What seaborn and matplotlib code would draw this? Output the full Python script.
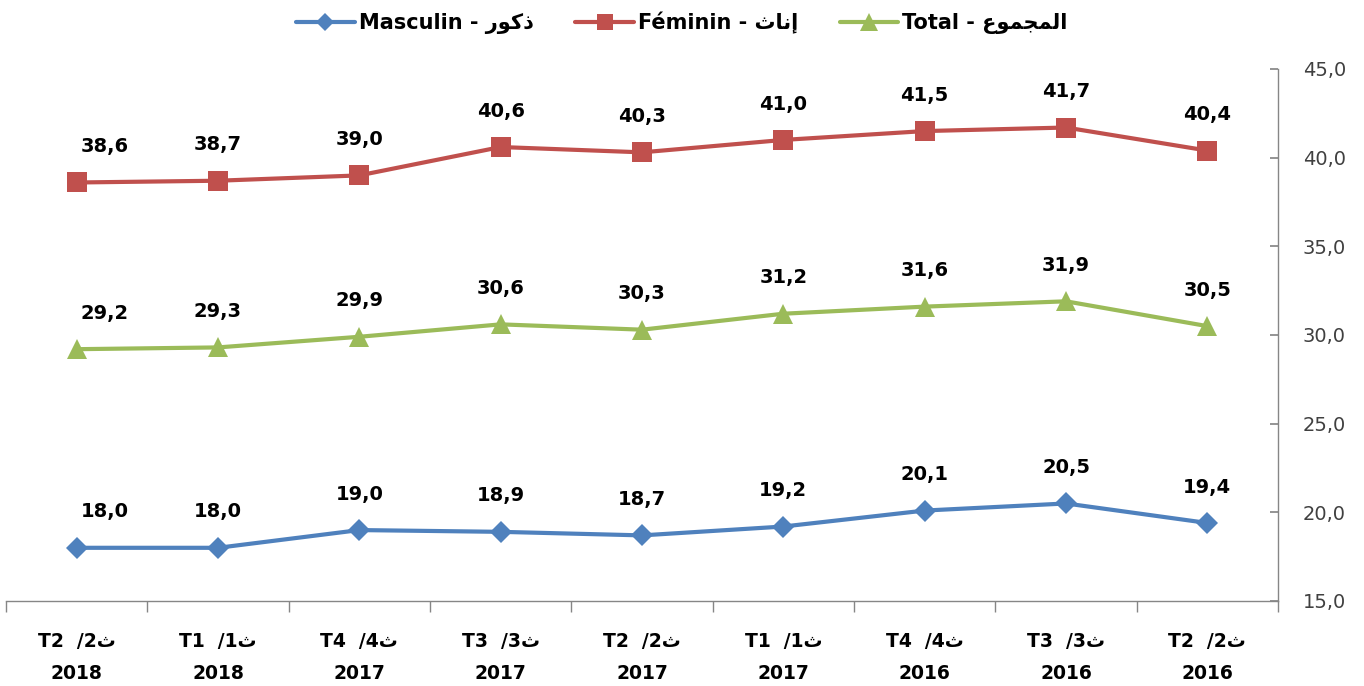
import matplotlib
matplotlib.use("Agg")
import matplotlib.pyplot as plt
import seaborn as sns
import pandas as pd
import numpy as np
from matplotlib.ticker import FixedLocator, FuncFormatter
from matplotlib.lines import Line2D

# ---- data ----
AR_THA = "\uFE99"  # ث
categories = [
    "T2  /2" + AR_THA + "\n2018", "T1  /1" + AR_THA + "\n2018", "T4  /4" + AR_THA + "\n2017",
    "T3  /3" + AR_THA + "\n2017", "T2  /2" + AR_THA + "\n2017", "T1  /1" + AR_THA + "\n2017",
    "T4  /4" + AR_THA + "\n2016", "T3  /3" + AR_THA + "\n2016", "T2  /2" + AR_THA + "\n2016",
]
masculin = [18.0, 18.0, 19.0, 18.9, 18.7, 19.2, 20.1, 20.5, 19.4]
feminin = [38.6, 38.7, 39.0, 40.6, 40.3, 41.0, 41.5, 41.7, 40.4]
total = [29.2, 29.3, 29.9, 30.6, 30.3, 31.2, 31.6, 31.9, 30.5]

# Arabic text in visual (presentation-form) order
lbl_m = "Masculin - " + "\uFEAD\uFEEE\uFEDB\uFEAB"          # ذكور
lbl_f = "Féminin - " + "\uFE99\uFE8E\uFEE7\uFE87"           # إناث
lbl_t = "Total - " + "\uFEC9\uFEEE\uFEE4\uFEA0\uFEE4\uFEDF\uFE8D"  # المجموع
series_names = [lbl_m, lbl_f, lbl_t]
series_values = [masculin, feminin, total]
colors = ["#4F81BD", "#C0504D", "#9BBB59"]
markers = ["D", "s", "^"]
msizes = [11, 14, 15]

rows = []
for name, vals in zip(series_names, series_values):
    for i, v in enumerate(vals):
        rows.append({"pos": i, "value": v, "series": name})
df = pd.DataFrame(rows)

sns.set_theme(style="white")
FAM = ["DejaVu Sans"]
plt.rcParams["font.family"] = FAM

fig = plt.figure(figsize=(13.64, 6.86), dpi=100)
ax = fig.add_axes([6 / 1364, 1 - 601 / 686, (1278 - 6) / 1364, (601 - 69) / 686])

sns.lineplot(data=df, x="pos", y="value", hue="series", hue_order=series_names,
             palette=colors, style="series", style_order=series_names,
             markers=dict(zip(series_names, markers)), dashes=False,
             linewidth=3, markeredgewidth=0, ax=ax, legend=False, sort=False)
for line, ms in zip(ax.lines, msizes):
    line.set_markersize(ms)

# data labels
for vals in series_values:
    for i, v in enumerate(vals):
        dx = 20 if i == 0 else 0
        ax.annotate(f"{v:.1f}".replace(".", ","), (i, v), xytext=(dx, 19),
                    textcoords="offset points", ha="center", va="bottom",
                    fontsize=14, fontweight="bold", color="black")

ax.set_xlim(-0.5, len(categories) - 0.5)
ax.set_ylim(15, 45)
ax.yaxis.tick_right()
ax.set_yticks(np.arange(15, 46, 5))
ax.yaxis.set_major_formatter(FuncFormatter(lambda v, p: f"{v:.1f}".replace(".", ",")))
ax.tick_params(axis="y", which="major", direction="in", length=6, color="#868686",
               labelsize=14, labelcolor="#404040", pad=18, right=True, left=False)

ax.set_xticks(range(len(categories)))
ax.set_xticklabels(categories, fontsize=13.5, fontweight="bold", linespacing=1.9, color="black")
ax.xaxis.set_minor_locator(FixedLocator(np.arange(-0.5, len(categories), 1)))
ax.tick_params(axis="x", which="major", length=0, pad=22, labelcolor="black")
ax.tick_params(axis="x", which="minor", length=8, color="#868686", direction="out", bottom=True)
ax.set_xlabel("")
ax.set_ylabel("")

for s in ["top", "left"]:
    ax.spines[s].set_visible(False)
for s in ["bottom", "right"]:
    ax.spines[s].set_color("#868686")
    ax.spines[s].set_linewidth(1)

# legend
handles = [Line2D([0], [0], color=c, marker=m, markersize=ms * 0.85, linewidth=3, markeredgewidth=0)
           for c, m, ms in zip(colors, markers, msizes)]
fig.legend(handles, series_names, loc="center", bbox_to_anchor=(0.5, 1 - 23 / 686), ncol=3,
           frameon=False, prop={"size": 15, "weight": "bold"}, labelcolor="black",
           handlelength=2.8, columnspacing=2.0, handletextpad=0.2)

fig.savefig("out.png", dpi=100)
